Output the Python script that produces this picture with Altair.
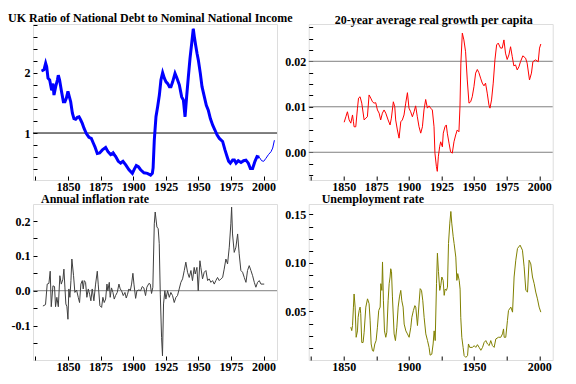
import altair as alt
import pandas as pd

# ---------------- data ----------------
debt_years = [1829.8, 1831.6, 1832.9, 1833.7, 1834.7, 1836.0, 1836.7, 1837.5, 1838.5, 1839.3,
              1840.6, 1841.9, 1842.6, 1843.6, 1844.9, 1846.5, 1847.7, 1848.8, 1850.0, 1851.1,
              1852.1, 1853.4, 1854.6, 1855.9, 1857.2, 1858.5, 1859.7, 1861.0, 1862.3, 1864.1,
              1866.1, 1867.9, 1869.5, 1870.7, 1872.5, 1874.3, 1876.4, 1878.9, 1880.7, 1882.8,
              1884.8, 1886.6, 1888.6, 1890.4, 1892.2, 1894.3, 1896.8, 1899.4, 1900.9, 1902.4,
              1904.0, 1905.7, 1908.3, 1910.9, 1913.4, 1914.7, 1915.3, 1916.2, 1917.5, 1918.8,
              1920.1, 1921.3, 1922.6, 1923.9, 1925.2, 1926.5, 1927.8, 1929.0, 1930.3, 1932.1,
              1933.6, 1935.4, 1937.2, 1938.5, 1939.8, 1941.0, 1942.3, 1943.6, 1944.9, 1946.1,
              1946.9, 1947.9, 1949.0, 1950.0, 1951.5, 1952.8, 1954.6, 1956.1, 1957.6, 1959.2,
              1961.0, 1962.7, 1964.3, 1966.1, 1968.6, 1970.4, 1972.0, 1973.2, 1974.5, 1976.3,
              1977.6, 1978.9, 1980.6, 1982.7, 1984.7, 1986.5, 1988.3, 1989.9, 1991.6, 1993.4,
              1995.0, 1996.7, 1998.5, 2000.1, 2001.8, 2003.7, 2005.7, 2007.0, 2008.3]
debt_ratio = [2.03, 2.05, 2.16, 2.10, 1.91, 1.88, 1.80, 1.71, 1.82, 1.63,
              1.77, 1.88, 1.96, 1.88, 1.71, 1.52, 1.52, 1.58, 1.69, 1.60,
              1.52, 1.33, 1.24, 1.23, 1.26, 1.27, 1.22, 1.16, 1.08, 0.99,
              0.93, 0.91, 0.83, 0.77, 0.66, 0.67, 0.72, 0.76, 0.69, 0.64,
              0.66, 0.61, 0.53, 0.50, 0.53, 0.47, 0.39, 0.33, 0.40, 0.46,
              0.44, 0.39, 0.34, 0.33, 0.30, 0.33, 0.42, 0.88, 1.27, 1.44,
              1.63, 1.88, 2.00, 1.91, 1.85, 1.82, 1.77, 1.77, 1.85, 1.99,
              1.91, 1.80, 1.60, 1.55, 1.27, 1.60, 1.93, 2.24, 2.49, 2.73,
              2.60, 2.46, 2.32, 2.21, 1.99, 1.77, 1.60, 1.46, 1.38, 1.24,
              1.13, 1.05, 0.97, 0.91, 0.86, 0.72, 0.61, 0.53, 0.50, 0.55,
              0.55, 0.50, 0.54, 0.51, 0.54, 0.55, 0.50, 0.41, 0.41, 0.53,
              0.61, 0.60, 0.54, 0.53, 0.58, 0.64, 0.69, 0.75, 0.88]
debt_ratio_alt = [2.03, 2.05, 2.16, 2.10, 1.91, 1.88, 1.80, 1.71, 1.82, 1.63,
                  1.77, 1.88, 1.96, 1.88, 1.71, 1.52, 1.52, 1.58, 1.69, 1.60,
                  1.52, 1.33, 1.24, 1.23, 1.26, 1.27, 1.22, 1.16, 1.08, 0.99,
                  0.93, 0.91, 0.83, 0.77, 0.66, 0.67, 0.72, 0.77, 0.71, 0.66,
                  0.70, 0.63, 0.54, 0.52, 0.55, 0.47, 0.39, 0.33, 0.40, 0.46,
                  0.44, 0.39, 0.34, 0.33, 0.30, 0.33, 0.42, 0.88, 1.27, 1.44,
                  1.63, 1.88, 2.00, 1.91, 1.85, 1.82, 1.77, 1.77, 1.85, 1.99,
                  1.91, 1.80, 1.60, 1.55, 1.27, 1.60, 1.93, 2.24, 2.49, 2.73,
                  2.60, 2.46, 2.32, 2.21, 1.99, 1.77, 1.60, 1.46, 1.38, 1.24,
                  1.13, 1.05, 0.97, 0.91, 0.86, 0.72, 0.61, 0.53, 0.50, 0.55,
                  0.55, 0.50, 0.54, 0.51, 0.54, 0.55, 0.50, 0.41, 0.41, 0.53,
                  0.61, 0.60, 0.54, 0.53, 0.58, 0.64, 0.69, 0.75, 0.88]

growth_years = [1850.4, 1851.7, 1852.9, 1854.2, 1855.5, 1856.8, 1857.5, 1858.0, 1859.3, 1860.6,
                1861.4, 1862.6, 1863.9, 1865.7, 1867.0, 1868.2, 1869.5, 1870.8, 1872.1, 1873.3,
                1874.6, 1875.9, 1877.2, 1878.4, 1879.7, 1881.0, 1882.3, 1884.1, 1885.6, 1886.6,
                1888.1, 1889.2, 1889.9, 1891.2, 1892.5, 1893.8, 1895.0, 1896.3, 1897.6, 1898.9,
                1900.1, 1901.4, 1902.7, 1904.0, 1905.2, 1906.5, 1907.8, 1909.1, 1910.4, 1911.6,
                1912.9, 1914.2, 1915.5, 1916.7, 1918.0, 1919.3, 1920.0, 1921.1, 1921.8, 1922.6,
                1923.6, 1924.4, 1925.7, 1926.4, 1927.7, 1928.7, 1929.5, 1930.8, 1932.0, 1933.3,
                1934.6, 1935.9, 1937.1, 1938.4, 1939.2, 1939.9, 1941.0, 1942.2, 1943.5, 1944.8,
                1946.1, 1947.4, 1948.6, 1949.9, 1951.2, 1952.5, 1953.7, 1955.0, 1956.3, 1957.6,
                1958.8, 1960.1, 1961.4, 1962.2, 1963.4, 1964.7, 1966.0, 1967.3, 1968.5, 1970.3,
                1971.6, 1972.9, 1974.1, 1975.4, 1976.7, 1978.0, 1979.3, 1980.5, 1981.8, 1983.1,
                1984.4, 1985.6, 1987.4, 1989.5, 1990.7, 1992.5, 1994.0, 1995.1, 1997.1, 1999.2,
                2000.2, 2001.2]
growth_values = [0.0066, 0.0078, 0.0089, 0.0071, 0.0064, 0.0082, 0.0067, 0.0056, 0.0056, 0.0097,
                 0.0119, 0.0122, 0.0108, 0.0071, 0.0075, 0.0078, 0.0126, 0.0119, 0.0111, 0.0108,
                 0.0109, 0.0093, 0.0086, 0.0071, 0.0086, 0.0093, 0.0086, 0.0071, 0.0060, 0.0075,
                 0.0111, 0.0100, 0.0071, 0.0049, 0.0031, 0.0067, 0.0071, 0.0082, 0.0108, 0.0131,
                 0.0097, 0.0089, 0.0078, 0.0089, 0.0102, 0.0078, 0.0056, 0.0042, 0.0056, 0.0093,
                 0.0116, 0.0097, 0.0102, 0.0097, 0.0093, 0.0056, -0.0002, -0.0031, -0.0042, -0.0010,
                 0.0012, 0.0023, 0.0012, 0.0042, 0.0056, 0.0060, 0.0042, 0.0020, 0.0001, -0.0002,
                 0.0023, 0.0038, 0.0049, 0.0045, 0.0100, 0.0196, 0.0262, 0.0247, 0.0221, 0.0159,
                 0.0108, 0.0111, 0.0122, 0.0144, 0.0174, 0.0182, 0.0175, 0.0163, 0.0152, 0.0146,
                 0.0152, 0.0130, 0.0104, 0.0097, 0.0115, 0.0152, 0.0203, 0.0236, 0.0240, 0.0229,
                 0.0229, 0.0247, 0.0218, 0.0204, 0.0214, 0.0232, 0.0210, 0.0190, 0.0192, 0.0181,
                 0.0188, 0.0199, 0.0212, 0.0207, 0.0196, 0.0159, 0.0174, 0.0199, 0.0203, 0.0199,
                 0.0229, 0.0238]

inflation_years = [1830.8, 1832.8, 1834.1, 1835.4, 1836.4, 1837.2, 1838.5, 1839.7, 1840.5, 1841.5,
                   1842.6, 1843.8, 1844.9, 1846.1, 1846.9, 1847.7, 1848.4, 1849.2, 1850.0, 1850.7,
                   1851.5, 1852.3, 1853.0, 1854.3, 1855.3, 1856.6, 1857.9, 1858.9, 1859.9, 1861.0,
                   1861.7, 1862.5, 1863.5, 1864.5, 1865.6, 1866.6, 1867.6, 1868.6, 1869.9, 1871.2,
                   1872.5, 1873.2, 1874.5, 1875.8, 1876.8, 1877.8, 1878.9, 1879.9, 1880.6, 1881.7,
                   1882.4, 1883.4, 1884.5, 1885.5, 1886.5, 1887.8, 1889.1, 1890.1, 1891.1, 1892.4,
                   1893.7, 1894.7, 1895.7, 1896.7, 1897.8, 1898.8, 1899.8, 1900.6, 1901.9, 1902.9,
                   1904.4, 1905.7, 1907.0, 1908.2, 1909.5, 1910.5, 1912.1, 1913.1, 1914.1, 1915.1,
                   1916.2, 1916.9, 1918.2, 1919.2, 1920.0, 1920.8, 1921.8, 1922.5, 1923.3, 1924.3,
                   1925.1, 1926.4, 1927.7, 1928.9, 1930.2, 1931.5, 1932.8, 1934.0, 1935.3, 1936.6,
                   1937.9, 1939.2, 1940.4, 1941.7, 1943.0, 1944.3, 1945.5, 1946.8, 1947.6, 1948.9,
                   1949.9, 1951.2, 1951.9, 1953.2, 1954.5, 1955.8, 1957.1, 1958.3, 1959.6, 1960.9,
                   1962.2, 1963.4, 1964.7, 1966.0, 1967.3, 1968.6, 1969.8, 1971.1, 1972.4, 1973.7,
                   1974.9, 1975.5, 1976.2, 1977.5, 1978.8, 1980.1, 1981.3, 1982.6, 1983.9, 1985.2,
                   1986.5, 1987.7, 1989.0, 1990.3, 1991.6, 1992.9, 1994.1, 1995.4, 1996.7, 1998.0,
                   2000.5]
inflation_values = [-0.044, -0.040, 0.019, 0.021, 0.056, -0.046, 0.014, 0.012, -0.046, -0.019,
                    -0.046, 0.043, 0.019, 0.033, 0.062, 0.008, -0.038, -0.046, -0.082, 0.005,
                    -0.019, 0.029, 0.091, 0.043, -0.005, 0.002, -0.019, -0.034, 0.019, 0.029,
                    0.005, 0.029, 0.024, -0.019, 0.005, -0.010, -0.029, 0.005, -0.029, 0.019,
                    0.056, 0.019, -0.043, -0.048, -0.019, -0.034, -0.024, 0.019, 0.000, 0.024,
                    -0.019, 0.008, -0.005, -0.024, -0.014, -0.005, 0.019, 0.005, 0.000, -0.014,
                    -0.005, -0.021, -0.010, 0.005, 0.000, 0.019, 0.050, 0.019, -0.022, 0.000,
                    0.002, 0.000, 0.012, 0.008, -0.014, 0.010, 0.021, 0.019, -0.008, 0.010,
                    0.192, 0.226, 0.183, 0.178, 0.135, -0.010, -0.135, -0.187, -0.038, 0.000,
                    -0.024, 0.000, -0.019, -0.005, -0.014, -0.034, -0.019, -0.014, 0.005, 0.024,
                    0.034, 0.058, 0.082, 0.053, 0.038, 0.058, 0.029, 0.067, 0.048, 0.067,
                    0.000, 0.086, 0.067, 0.034, 0.053, 0.058, 0.029, 0.034, 0.024, 0.029,
                    0.019, 0.029, 0.038, 0.029, 0.034, 0.038, 0.062, 0.091, 0.077, 0.125,
                    0.192, 0.240, 0.163, 0.110, 0.125, 0.163, 0.106, 0.058, 0.053, 0.038,
                    0.024, 0.058, 0.072, 0.058, 0.043, 0.024, 0.010, 0.024, 0.029, 0.019,
                    0.019]

unemp_years = [1855.5, 1856.2, 1856.8, 1857.5, 1858.0, 1858.8, 1859.6, 1860.6, 1861.1, 1861.9,
               1862.6, 1863.1, 1863.9, 1864.9, 1865.7, 1867.0, 1868.3, 1869.5, 1870.3, 1871.1,
               1872.1, 1872.9, 1873.9, 1874.9, 1875.9, 1876.9, 1878.0, 1878.5, 1879.3, 1879.8,
               1880.5, 1881.3, 1882.3, 1883.1, 1884.1, 1884.9, 1885.6, 1886.1, 1886.7, 1887.4,
               1888.7, 1889.7, 1890.8, 1891.8, 1892.8, 1893.8, 1894.6, 1895.6, 1896.4, 1897.7,
               1898.9, 1900.2, 1901.5, 1902.3, 1903.5, 1904.6, 1905.3, 1906.6, 1907.9, 1908.7,
               1909.7, 1910.7, 1911.7, 1913.0, 1914.3, 1915.5, 1916.3, 1917.6, 1918.6, 1919.4,
               1920.2, 1921.2, 1921.9, 1922.7, 1923.7, 1924.5, 1925.3, 1926.3, 1927.1, 1927.8,
               1928.8, 1929.6, 1930.4, 1931.4, 1932.2, 1932.9, 1934.0, 1934.7, 1936.0, 1936.8,
               1937.5, 1938.6, 1939.3, 1939.8, 1940.6, 1941.6, 1942.4, 1943.7, 1945.0, 1945.7,
               1946.7, 1948.8, 1950.1, 1951.3, 1952.6, 1953.9, 1955.2, 1956.5, 1957.7, 1959.0,
               1960.3, 1961.6, 1962.8, 1964.1, 1965.4, 1966.7, 1968.7, 1970.5, 1971.8, 1972.6,
               1973.1, 1974.3, 1975.6, 1976.4, 1978.2, 1979.5, 1980.7, 1982.0, 1983.3, 1985.3,
               1987.1, 1988.4, 1989.7, 1991.0, 1992.2, 1993.5, 1994.8, 1996.1, 1997.3, 1998.6,
               1999.9, 2001.2]
unemp_values = [0.0338, 0.0303, 0.0355, 0.0545, 0.0680, 0.0545, 0.0234, 0.0300, 0.0440, 0.0510,
                0.0545, 0.0480, 0.0180, 0.0180, 0.0286, 0.0545, 0.0630, 0.0580, 0.0410, 0.0165,
                0.0096, 0.0090, 0.0165, 0.0200, 0.0338, 0.0510, 0.0545, 0.0786, 0.0717, 0.1010,
                0.0610, 0.0300, 0.0234, 0.0286, 0.0610, 0.0786, 0.0855, 0.0940, 0.0910, 0.0650,
                0.0269, 0.0200, 0.0338, 0.0545, 0.0650, 0.0717, 0.0610, 0.0545, 0.0370, 0.0300,
                0.0269, 0.0234, 0.0338, 0.0440, 0.0510, 0.0560, 0.0545, 0.0355, 0.0597, 0.0735,
                0.0717, 0.0610, 0.0440, 0.0269, 0.0200, 0.0130, 0.0050, 0.0060, 0.0165, 0.0300,
                0.0200, 0.0786, 0.1100, 0.0910, 0.0717, 0.0770, 0.0855, 0.0820, 0.0666, 0.0730,
                0.0717, 0.0750, 0.1200, 0.1410, 0.1530, 0.1410, 0.1270, 0.1200, 0.1060, 0.0820,
                0.0890, 0.0820, 0.0730, 0.0440, 0.0234, 0.0130, 0.0045, 0.0027, 0.0045, 0.0165,
                0.0130, 0.0130, 0.0148, 0.0130, 0.0158, 0.0130, 0.0100, 0.0130, 0.0180, 0.0200,
                0.0165, 0.0148, 0.0200, 0.0148, 0.0130, 0.0217, 0.0234, 0.0234, 0.0269, 0.0320,
                0.0234, 0.0234, 0.0407, 0.0510, 0.0545, 0.0493, 0.0855, 0.1028, 0.1149, 0.1183,
                0.1131, 0.0960, 0.0717, 0.0700, 0.1028, 0.0990, 0.0855, 0.0786, 0.0700, 0.0630,
                0.0545, 0.0493]

# tick positions / labels
x_ticks = [1825, 1850, 1875, 1900, 1925, 1950, 1975, 2000]
debt_ticks = [0.4, 0.6, 0.8, 1.0, 1.2, 1.4, 1.6, 1.8, 2.0, 2.2, 2.4, 2.6, 2.8]
growth_ticks = [-0.005, -0.0025, 0.0, 0.0025, 0.005, 0.0075, 0.01, 0.0125, 0.015, 0.0175,
                0.02, 0.0225, 0.025, 0.0275]
inflation_ticks = [-0.15, -0.1, -0.05, 0.0, 0.05, 0.1, 0.15, 0.2]
unemp_ticks = [0.0125, 0.025, 0.0375, 0.05, 0.0625, 0.075, 0.0875, 0.1, 0.1125, 0.125, 0.1375, 0.15]
debt_ref = [1]
growth_refs = [0.0, 0.01, 0.02]
inflation_refs = [0.0]

X_DOMAIN = [1823.2, 2010.3]
FONT = "Liberation Serif"
W, H = 244, 156


def ax(values, expr, pad=3):
    return alt.Axis(values=values, labelExpr=expr, title=None, offset=-4, tickSize=4,
                    labelPadding=pad, domain=False, grid=False, labelOverlap=False,
                    labelFlush=False, labelFont=FONT, labelFontSize=12,
                    labelFontWeight="bold", labelColor="black", tickColor="black",
                    tickWidth=1)


def xenc(expr):
    return alt.X("year:Q", scale=alt.Scale(domain=X_DOMAIN, nice=False, zero=False),
                 axis=ax(x_ticks, expr, pad=1))


def title(text, anchor, dx, offset):
    return alt.TitleParams(text=text, anchor=anchor, frame="group", dx=dx, offset=offset,
                           baseline="alphabetic", font=FONT, fontSize=12, fontWeight="bold",
                           color="black")


x_all = "datum.value >= 1850 ? format(datum.value, 'd') : ''"
x_half = "datum.value >= 1850 && datum.value % 50 == 0 ? format(datum.value, 'd') : ''"

# ---- panel 1 ----
s1 = alt.Scale(domain=[0.22, 2.81], nice=False, zero=False)
y1ax = ax(debt_ticks, "datum.value == 1 || datum.value == 2 ? format(datum.value, 'd') : ''")
debt_df = pd.DataFrame({"year": debt_years, "thick": debt_ratio, "thin": debt_ratio_alt})
p1_rule = alt.Chart(pd.DataFrame({"v": debt_ref})).mark_rule(color="black", strokeWidth=1).encode(
    y=alt.Y("v:Q", scale=s1, axis=y1ax))
p1_thin = alt.Chart(debt_df).mark_line(color="#0000ff", strokeWidth=1).encode(
    x=xenc(x_all), y=alt.Y("thin:Q", scale=s1, axis=y1ax))
p1_thick = alt.Chart(debt_df).transform_filter("datum.year <= 1997").mark_line(
    color="#0000ff", strokeWidth=3).encode(
    x=xenc(x_all), y=alt.Y("thick:Q", scale=s1, axis=y1ax))
p1 = alt.layer(p1_rule, p1_thin, p1_thick).properties(
    width=W, height=H,
    title=title("UK Ratio of National Debt to Nominal National Income", "start", -25, -15))

# ---- panel 2 ----
s2 = alt.Scale(domain=[-0.0061, 0.0282], nice=False, zero=False)
y2ax = ax(growth_ticks,
          "abs(datum.value*100 - round(datum.value*100)) < 1e-6 ? format(datum.value, '.2f') : ''")
p2_rule = alt.Chart(pd.DataFrame({"v": growth_refs})).mark_rule(color="#808080", strokeWidth=1).encode(
    y=alt.Y("v:Q", scale=s2, axis=y2ax))
p2_line = alt.Chart(pd.DataFrame({"year": growth_years, "v": growth_values})).mark_line(
    color="#ff0000", strokeWidth=1).encode(x=xenc(x_all), y=alt.Y("v:Q", scale=s2, axis=y2ax))
p2 = alt.layer(p2_rule, p2_line).properties(
    width=W, height=H,
    title=title("20-year average real growth per capita", "middle", 3, -15))

# ---- panel 3 ----
s3 = alt.Scale(domain=[-0.199, 0.249], nice=False, zero=False)
y3ax = ax(inflation_ticks,
          "abs(datum.value*10 - round(datum.value*10)) < 1e-6 ? "
          "(datum.value < 0 ? '-' + format(-datum.value, '.1f') : format(datum.value, '.1f')) : ''")
p3_rule = alt.Chart(pd.DataFrame({"v": inflation_refs})).mark_rule(color="#808080", strokeWidth=1).encode(
    y=alt.Y("v:Q", scale=s3, axis=y3ax))
p3_line = alt.Chart(pd.DataFrame({"year": inflation_years, "v": inflation_values})).mark_line(
    color="#404040", strokeWidth=1).encode(x=xenc(x_all), y=alt.Y("v:Q", scale=s3, axis=y3ax))
p3 = alt.layer(p3_rule, p3_line).properties(
    width=W, height=H, title=title("Annual inflation rate", "start", 8, -11))

# ---- panel 4 ----
s4 = alt.Scale(domain=[0.0, 0.1607], nice=False, zero=False)
p4 = alt.Chart(pd.DataFrame({"year": unemp_years, "v": unemp_values})).mark_line(
    color="#808000", strokeWidth=1).encode(
    x=xenc(x_half),
    y=alt.Y("v:Q", scale=s4,
            axis=ax(unemp_ticks,
                    "abs(datum.value*20 - round(datum.value*20)) < 1e-6 ? format(datum.value, '.2f') : ''"))
).properties(width=W, height=H, title=title("Unemployment rate", "start", 13, -11))

chart = alt.concat(p1, p2, p3, p4, columns=2, spacing={"row": 24, "column": 31.7},
                   bounds="flush").properties(
    padding={"left": 7, "top": 11, "right": 2, "bottom": 2}
).configure_view(stroke="black", strokeWidth=1).configure(background="white")

chart.save("out.html", embed_options={"renderer": "svg", "actions": False})
